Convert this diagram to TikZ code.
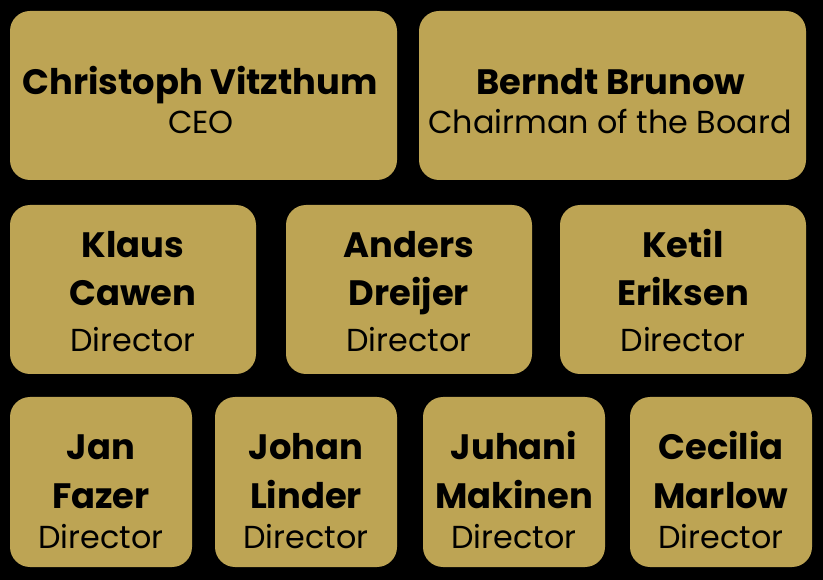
\documentclass[tikz,border=0pt]{standalone}
\usepackage{fontspec}
\setmainfont{Poppins}
\definecolor{gold}{RGB}{189,164,84}
\begin{document}
\begin{tikzpicture}[x=1pt,y=-1pt,
  card/.style={fill=gold,rounded corners=20pt,inner sep=0pt},
  nm/.style={anchor=base,inner sep=0pt,yshift=-2pt,font=\fontsize{35.3}{40}\selectfont\bfseries},
  ttl/.style={anchor=base,inner sep=0pt,yshift=-2pt,font=\fontsize{31.8}{36}\selectfont}]
\fill[black] (0,0) rectangle (823,580);
\useasboundingbox (0,0) rectangle (823,580);
% row 1
\node[card,minimum width=387pt,minimum height=169pt] (ceo) at (203.5,95.5) {};
\node[card,minimum width=387pt,minimum height=169pt] (chair) at (612.5,95.5) {};
\node[nm] (ceoN) at (200,93) {Christoph Vitzthum};
\node[ttl] (ceoT) at (201,132) {CEO};
\node[nm] (chairN) at (611,93) {Berndt Brunow};
\node[ttl] (chairT) at (610,132) {Chairman of the Board};
% row 2
\node[card,minimum width=246pt,minimum height=169pt] (klaus) at (133,289.5) {};
\node[card,minimum width=246pt,minimum height=169pt] (anders) at (409,289.5) {};
\node[card,minimum width=246pt,minimum height=169pt] (ketil) at (683,289.5) {};
\node[nm] (klausA) at (133,256) {Klaus};
\node[nm] (klausB) at (133,304) {Cawen};
\node[ttl] (klausT) at (133,350) {Director};
\node[nm] (andersA) at (409,256) {Anders};
\node[nm] (andersB) at (409,304) {Dreijer};
\node[ttl] (andersT) at (409,350) {Director};
\node[nm] (ketilA) at (683,256) {Ketil};
\node[nm] (ketilB) at (683,304) {Eriksen};
\node[ttl] (ketilT) at (683,350) {Director};
% row 3
\node[card,minimum width=182pt,minimum height=170pt] (jan) at (101,482) {};
\node[card,minimum width=182pt,minimum height=170pt] (johan) at (306,482) {};
\node[card,minimum width=182pt,minimum height=170pt] (juhani) at (514,482) {};
\node[card,minimum width=182pt,minimum height=170pt] (cecilia) at (721,482) {};
\node[nm] (janA) at (101,457) {Jan};
\node[nm] (janB) at (101,506) {Fazer};
\node[ttl] (janT) at (101,546) {Director};
\node[nm] (johanA) at (306,457) {Johan};
\node[nm] (johanB) at (306,506) {Linder};
\node[ttl] (johanT) at (306,546) {Director};
\node[nm] (juhaniA) at (514,457) {Juhani};
\node[nm] (juhaniB) at (514,506) {Makinen};
\node[ttl] (juhaniT) at (514,546) {Director};
\node[nm] (ceciliaA) at (721,457) {Cecilia};
\node[nm] (ceciliaB) at (721,506) {Marlow};
\node[ttl] (ceciliaT) at (721,546) {Director};
\end{tikzpicture}
\end{document}
